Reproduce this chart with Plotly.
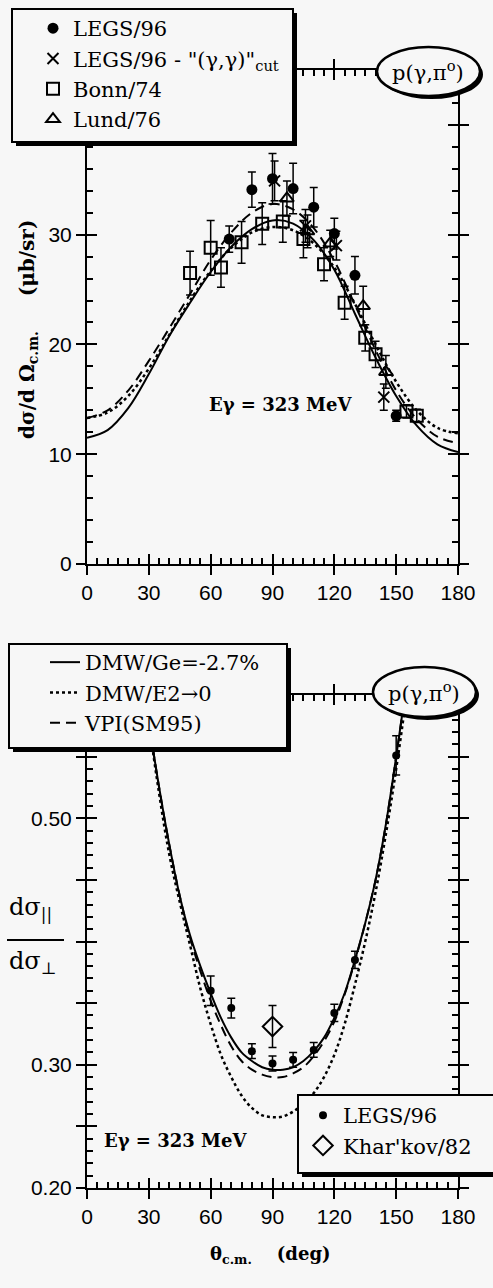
import plotly.graph_objects as go

W, H = 493, 1288
BG = '#f7f7f7'
SERIF = 'DejaVu Serif'
SANS = 'Liberation Sans'

# ---------------- top panel : d sigma / d Omega (microbarn/sr) ----------------
legs_theta = [69, 80, 90, 100, 110, 120, 130, 150]
legs_xs = [29.6, 34.1, 35.1, 34.2, 32.5, 30.1, 26.3, 13.5]
legs_err = [1.2, 1.6, 2.3, 2.3, 1.8, 1.4, 1.7, 0.5]

cut_theta = [91, 106, 121, 144]
cut_xs = [34.9, 30.8, 29.0, 15.2]
cut_err = [1.8, 1.5, 1.3, 1.2]

bonn_theta = [50, 60, 65, 75, 85, 95, 105, 115, 125, 135, 140, 155, 160]
bonn_xs = [26.5, 28.8, 27.0, 29.3, 31.0, 31.2, 29.6, 27.3, 23.8, 20.6, 19.1, 13.9, 13.5]
bonn_err = [2.0, 2.5, 1.8, 1.9, 1.9, 1.9, 1.7, 1.5, 1.5, 1.2, 1.2, 0.6, 0.6]

lund_theta = [97, 107, 118, 134, 145]
lund_xs = [33.3, 30.3, 29.2, 23.5, 17.5]
lund_err = [1.6, 1.5, 1.2, 1.8, 1.5]

curve_theta_top = [0, 10, 20, 30, 40, 50, 60, 70, 80, 90, 100, 110, 120, 130, 140, 150, 160, 170, 180]
dmw_top = [11.5, 12.2, 14.2, 17.3, 20.8, 23.8, 26.6, 28.9, 30.5, 31.3, 31.0, 29.5, 26.8, 22.8, 18.8, 15.3, 12.6, 10.9, 10.2]
e2_top = [13.3, 13.8, 15.3, 17.8, 20.9, 24.0, 26.7, 28.8, 30.2, 30.7, 30.4, 29.2, 27.0, 23.7, 20.0, 16.6, 14.0, 12.4, 11.9]
vpi_top = [13.3, 14.0, 15.8, 18.5, 21.5, 24.6, 27.7, 30.2, 32.0, 32.8, 32.3, 30.6, 27.6, 23.6, 19.5, 15.8, 13.2, 11.6, 11.0]

# ---------------- bottom panel : d sigma_par / d sigma_perp ----------------
legs_r_theta = [60, 70, 80, 90, 100, 110, 120, 130, 150]
legs_r = [0.360, 0.346, 0.311, 0.301, 0.304, 0.312, 0.342, 0.385, 0.551]
legs_r_err = [0.012, 0.008, 0.006, 0.006, 0.006, 0.006, 0.007, 0.007, 0.016]

khar_theta = [90]
khar_r = [0.331]
khar_err = [0.017]

curve_theta_bot = [25, 30, 35, 40, 45, 50, 55, 60, 65, 70, 75, 80, 85, 90, 95, 100, 105, 110, 115, 120, 125, 130, 135, 140, 145, 150, 155, 160]
dmw_bot = [0.66, 0.58, 0.525, 0.478, 0.437, 0.405, 0.380, 0.358, 0.338, 0.322, 0.310, 0.303, 0.298, 0.296, 0.296, 0.298, 0.303, 0.311, 0.322, 0.338, 0.358, 0.385, 0.415, 0.450, 0.495, 0.550, 0.610, 0.68]
e2_bot = [0.66, 0.58, 0.52, 0.470, 0.432, 0.397, 0.362, 0.333, 0.308, 0.290, 0.275, 0.265, 0.259, 0.2575, 0.258, 0.262, 0.268, 0.277, 0.290, 0.308, 0.333, 0.365, 0.400, 0.440, 0.487, 0.540, 0.600, 0.67]
vpi_bot = [0.66, 0.58, 0.525, 0.478, 0.437, 0.403, 0.376, 0.352, 0.332, 0.315, 0.303, 0.296, 0.292, 0.290, 0.290, 0.293, 0.298, 0.307, 0.319, 0.335, 0.357, 0.384, 0.415, 0.450, 0.495, 0.550, 0.610, 0.68]

x_ticks = [0, 30, 60, 90, 120, 150, 180]
top_y_ticks = [0, 10, 20, 30, 40]
bot_y_major = [0.20, 0.25, 0.30, 0.35, 0.40, 0.45, 0.50, 0.55, 0.60]
bot_y_labels = ['0.20', '', '0.30', '', '', '', '0.50', '', '']

# ---------------------------------------------------------------------------
def px(x):
    return x / W

def py(y):
    return 1 - y / H

fig = go.Figure()
err = lambda a: dict(type='data', array=a, color='black', thickness=1.5, width=4)
lw = 2

# top panel curves (primary axes)
fig.add_trace(go.Scatter(x=curve_theta_top, y=dmw_top, mode='lines', line=dict(color='black', width=lw, shape='spline'),
                         showlegend=False, xaxis='x', yaxis='y'))
fig.add_trace(go.Scatter(x=curve_theta_top, y=e2_top, mode='lines', line=dict(color='black', width=2.5, dash='dot', shape='spline'),
                         showlegend=False, xaxis='x', yaxis='y'))
fig.add_trace(go.Scatter(x=curve_theta_top, y=vpi_top, mode='lines', line=dict(color='black', width=lw, dash='10px,6px', shape='spline'),
                         showlegend=False, xaxis='x', yaxis='y'))

# top panel points (overlay axes carrying the labelled, outward ticks)
fig.add_trace(go.Scatter(x=legs_theta, y=legs_xs, mode='markers', name='LEGS/96',
                         marker=dict(symbol='circle', size=11, color='black'),
                         error_y=err(legs_err), xaxis='x3', yaxis='y3', legend='legend'))
fig.add_trace(go.Scatter(x=cut_theta, y=cut_xs, mode='markers',
                         name='LEGS/96 - "(γ,γ)"<sub>cut</sub>',
                         marker=dict(symbol='x-thin-open', size=11, color='black', line=dict(width=2, color='black')),
                         error_y=err(cut_err), xaxis='x3', yaxis='y3', legend='legend'))
fig.add_trace(go.Scatter(x=bonn_theta, y=bonn_xs, mode='markers', name='Bonn/74',
                         marker=dict(symbol='square-open', size=12, color='black', line=dict(width=2, color='black')),
                         error_y=err(bonn_err), xaxis='x3', yaxis='y3', legend='legend'))
fig.add_trace(go.Scatter(x=lund_theta, y=lund_xs, mode='markers', name='Lund/76',
                         marker=dict(symbol='triangle-up-open', size=12, color='black', line=dict(width=2, color='black')),
                         error_y=err(lund_err), xaxis='x3', yaxis='y3', legend='legend'))

# bottom panel curves (legend2)
fig.add_trace(go.Scatter(x=curve_theta_bot, y=dmw_bot, mode='lines', name='DMW/Ge=-2.7%',
                         line=dict(color='black', width=lw, shape='spline'), xaxis='x2', yaxis='y2', legend='legend2'))
fig.add_trace(go.Scatter(x=curve_theta_bot, y=e2_bot, mode='lines', name='DMW/E2→0',
                         line=dict(color='black', width=2.5, dash='dot', shape='spline'), xaxis='x2', yaxis='y2', legend='legend2'))
fig.add_trace(go.Scatter(x=curve_theta_bot, y=vpi_bot, mode='lines', name='VPI(SM95)',
                         line=dict(color='black', width=lw, dash='10px,6px', shape='spline'), xaxis='x2', yaxis='y2', legend='legend2'))

# bottom panel points (legend3)
fig.add_trace(go.Scatter(x=legs_r_theta, y=legs_r, mode='markers', name='LEGS/96',
                         marker=dict(symbol='circle', size=8, color='black'),
                         error_y=err(legs_r_err), xaxis='x4', yaxis='y4', legend='legend3'))
fig.add_trace(go.Scatter(x=khar_theta, y=khar_r, mode='markers', name="Khar'kov/82",
                         marker=dict(symbol='diamond-open', size=15, color='black', line=dict(width=2, color='black')),
                         error_y=err(khar_err), xaxis='x4', yaxis='y4', legend='legend3'))

XD = [px(87), px(458)]
TOPD = [py(564), py(70)]
BOTD = [py(1188), py(695)]

tickfont = dict(family=SANS, size=21, color='black')

def inner_x(anchor):
    return dict(range=[0, 180], domain=XD, anchor=anchor, showline=True, linecolor='black', linewidth=2,
                mirror='ticks', ticks='inside', ticklen=10, tickwidth=2, tickcolor='black',
                tickvals=x_ticks, showticklabels=False, showgrid=False, zeroline=False, automargin=False,
                minor=dict(ticks='inside', ticklen=6, tickwidth=1.5, tickcolor='black', dtick=5, showgrid=False))

def outer_x(over, anchor):
    return dict(range=[0, 180], overlaying=over, anchor=anchor, side='bottom', showline=False,
                mirror='ticks', ticks='outside', ticklen=10, tickwidth=2, tickcolor='black',
                tickvals=x_ticks, ticktext=[str(t) for t in x_ticks], tickfont=tickfont,
                showgrid=False, zeroline=False, automargin=False)

def inner_y(rng, dom, anchor, vals, minor_dtick):
    return dict(range=rng, domain=dom, anchor=anchor, showline=True, linecolor='black', linewidth=2,
                mirror='ticks', ticks='inside', ticklen=10, tickwidth=2, tickcolor='black',
                tickvals=vals, showticklabels=False, showgrid=False, zeroline=False, automargin=False,
                minor=dict(ticks='inside', ticklen=6, tickwidth=1.5, tickcolor='black', dtick=minor_dtick, showgrid=False))

def outer_y(rng, over, anchor, vals, labels):
    return dict(range=rng, overlaying=over, anchor=anchor, side='left', showline=False, mirror='ticks',
                ticks='outside', ticklen=10, tickwidth=2, tickcolor='black', tickvals=vals, ticktext=labels,
                tickfont=tickfont, showgrid=False, zeroline=False, automargin=False)

legfont = dict(family=SERIF, size=21, color='black')
layout = dict(
    width=W, height=H, margin=dict(l=0, r=0, t=0, b=0, autoexpand=False),
    paper_bgcolor=BG, plot_bgcolor=BG, showlegend=True,
    xaxis=inner_x('y'),
    xaxis3=outer_x('x', 'y3'),
    xaxis2=inner_x('y2'),
    xaxis4=outer_x('x2', 'y4'),
    yaxis=inner_y([0, 45], TOPD, 'x', top_y_ticks, 2),
    yaxis3=outer_y([0, 45], 'y', 'x3', top_y_ticks, [str(t) for t in top_y_ticks]),
    yaxis2=inner_y([0.2, 0.6], BOTD, 'x2', bot_y_major, 0.01),
    yaxis4=outer_y([0.2, 0.6], 'y2', 'x4', bot_y_major, bot_y_labels),
    legend=dict(x=px(33), y=py(8), xanchor='left', yanchor='top', bgcolor='rgba(0,0,0,0)', borderwidth=0,
                font=legfont, tracegroupgap=0),
    legend2=dict(x=px(45), y=py(642), xanchor='left', yanchor='top', bgcolor='rgba(0,0,0,0)', borderwidth=0,
                 font=legfont),
    legend3=dict(x=px(303), y=py(1095), xanchor='left', yanchor='top', bgcolor='rgba(0,0,0,0)', borderwidth=0,
                 font=legfont),
)
fig.update_layout(**layout)

shapes = []
def box(x0, y0, x1, y1, sh=4):
    shapes.append(dict(type='rect', xref='paper', yref='paper', x0=px(x0 + sh), x1=px(x1 + sh), y0=py(y1 + sh), y1=py(y0 + sh),
                       fillcolor='black', line=dict(width=0), layer='above'))
    shapes.append(dict(type='rect', xref='paper', yref='paper', x0=px(x0), x1=px(x1), y0=py(y1), y1=py(y0),
                       fillcolor=BG, line=dict(width=2, color='black'), layer='above'))

def oval(x0, y0, x1, y1, sh=3):
    shapes.append(dict(type='circle', xref='paper', yref='paper', x0=px(x0 + sh), x1=px(x1 + sh), y0=py(y1 + sh), y1=py(y0 + sh),
                       fillcolor='black', line=dict(width=0), layer='above'))
    shapes.append(dict(type='circle', xref='paper', yref='paper', x0=px(x0), x1=px(x1), y0=py(y1), y1=py(y0),
                       fillcolor=BG, line=dict(width=2.5, color='black'), layer='above'))

box(12, 9, 293, 142)
box(9, 644, 287, 748)
box(298, 1095, 505, 1173)
oval(377, 47, 480, 96)
oval(373, 667, 476, 717)
# fraction bar of the lower y title
shapes.append(dict(type='line', xref='paper', yref='paper', x0=px(7), x1=px(64), y0=py(940), y1=py(940),
                   line=dict(color='black', width=2)))
fig.update_layout(shapes=shapes)

ann = []
def text(x, y, s, size=20, font=SERIF, angle=0, xanchor='center'):
    ann.append(dict(x=px(x), y=py(y), xref='paper', yref='paper', text=s, showarrow=False, textangle=angle,
                    xanchor=xanchor, yanchor='middle', font=dict(family=font, size=size, color='black')))

text(428, 71, 'p(γ,π<sup>o</sup>)', size=21)
text(424, 692, 'p(γ,π<sup>o</sup>)', size=21)
text(280, 404, '<b>Eγ = 323 MeV</b>', size=18)
text(175, 1140, '<b>Eγ = 323 MeV</b>', size=18)
text(28, 330, '<b>dσ/d Ω<sub>c.m.</sub>     (μb/sr)</b>', size=20, angle=-90)
text(7, 908, 'dσ<sub>||</sub>', size=24, xanchor='left')
text(7, 962, 'dσ<sub>⊥</sub>', size=24, xanchor='left')
text(270, 1255, '<b>θ<sub>c.m.</sub>    (deg)</b>', size=18)
fig.update_layout(annotations=ann)

fig.write_html('out.html')
